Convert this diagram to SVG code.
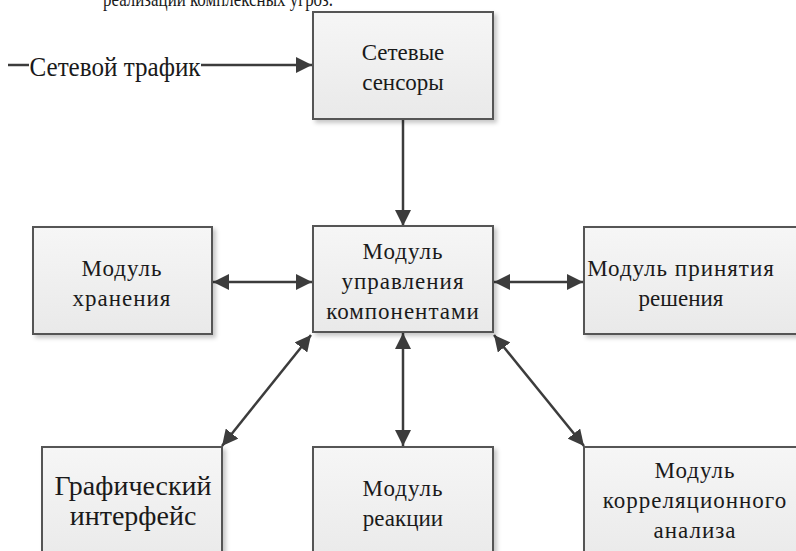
<svg xmlns="http://www.w3.org/2000/svg" width="796" height="551" viewBox="0 0 796 551">
<defs>
<linearGradient id="boxFill" x1="0" y1="0" x2="0" y2="1">
<stop offset="0" stop-color="#f6f6f6"/>
<stop offset="1" stop-color="#e9e9e9"/>
</linearGradient>
<filter id="shadow" x="-10%" y="-10%" width="130%" height="130%">
<feDropShadow dx="3" dy="3" stdDeviation="2" flood-color="#000" flood-opacity="0.22"/>
</filter>
<marker id="arrow" viewBox="0 0 16 16" refX="16" refY="8" markerWidth="16" markerHeight="16" markerUnits="userSpaceOnUse" orient="auto-start-reverse">
<path d="M0,0 L16,8 L0,16 z" fill="#3c3c3c"/>
</marker>
</defs>
<style>
.box { fill: url(#boxFill); stroke: #555555; stroke-width: 2; filter: url(#shadow); }
.conn { stroke: #3c3c3c; stroke-width: 2.5; fill: none; }
text { font-family: "Liberation Serif", "Times New Roman", serif; fill: #1a1a1a; text-anchor: middle; }
</style>
<rect width="796" height="551" fill="#ffffff"/>

<text x="218" y="6" font-size="22" textLength="230" lengthAdjust="spacingAndGlyphs">реализации комплексных угроз.</text>

<g id="connectors">
<line class="conn" x1="8" y1="65" x2="29" y2="65"/>
<line class="conn" x1="201" y1="65" x2="312" y2="65" marker-end="url(#arrow)"/>
<line class="conn" x1="403" y1="119" x2="403" y2="226" marker-end="url(#arrow)"/>
<line class="conn" x1="213" y1="282" x2="312" y2="282" marker-start="url(#arrow)" marker-end="url(#arrow)"/>
<line class="conn" x1="494" y1="282" x2="583" y2="282" marker-start="url(#arrow)" marker-end="url(#arrow)"/>
<line class="conn" x1="311" y1="335" x2="222" y2="446" marker-start="url(#arrow)" marker-end="url(#arrow)"/>
<line class="conn" x1="403" y1="333" x2="403" y2="446" marker-start="url(#arrow)" marker-end="url(#arrow)"/>
<line class="conn" x1="494" y1="335" x2="584" y2="446" marker-start="url(#arrow)" marker-end="url(#arrow)"/>
<text x="0" y="0" font-size="27" transform="translate(115,76) scale(0.93,1)">Сетевой трафик</text>
</g>

<g id="sensors">
<rect class="box" x="313" y="12" width="180" height="107"/>
<text x="403" y="60" font-size="23">Сетевые</text>
<text x="403" y="90" font-size="23">сенсоры</text>
</g>

<g id="management">
<rect class="box" x="313" y="226" width="180" height="106"/>
<text x="403" y="259" font-size="23" letter-spacing="1">Модуль</text>
<text x="403" y="289" font-size="23" letter-spacing="1">управления</text>
<text x="403" y="319" font-size="23" letter-spacing="1">компонентами</text>
</g>

<g id="storage">
<rect class="box" x="33" y="227" width="179" height="107"/>
<text x="122" y="276" font-size="23" letter-spacing="1">Модуль</text>
<text x="122" y="306" font-size="23" letter-spacing="1">хранения</text>
</g>

<g id="decision">
<rect class="box" x="584" y="227" width="230" height="107"/>
<text x="681" y="276" font-size="23" letter-spacing="1">Модуль принятия</text>
<text x="681" y="306" font-size="23">решения</text>
</g>

<g id="gui">
<rect class="box" x="42" y="447" width="180" height="120"/>
<text x="133" y="495" font-size="28">Графический</text>
<text x="133" y="525" font-size="28">интерфейс</text>
</g>

<g id="reaction">
<rect class="box" x="313" y="447" width="180" height="120"/>
<text x="403" y="496" font-size="23" letter-spacing="1">Модуль</text>
<text x="403" y="526" font-size="23">реакции</text>
</g>

<g id="correlation">
<rect class="box" x="584" y="447" width="230" height="120"/>
<text x="695" y="478" font-size="23" letter-spacing="1">Модуль</text>
<text x="695" y="508" font-size="23" letter-spacing="1">корреляционного</text>
<text x="695" y="538" font-size="23" letter-spacing="1">анализа</text>
</g>
</svg>
